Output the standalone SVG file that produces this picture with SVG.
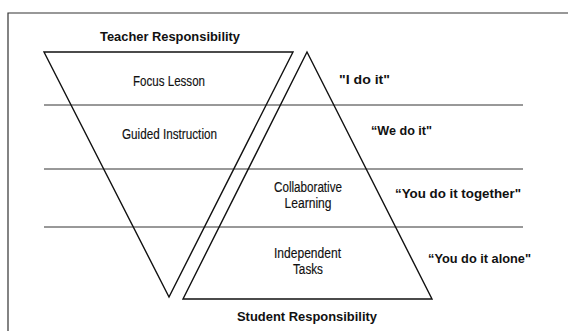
<svg xmlns="http://www.w3.org/2000/svg" width="569" height="331" viewBox="0 0 569 331">
<style>
.frame{fill:none;stroke:#333;stroke-width:1.2}
.band{fill:none;stroke:#333;stroke-width:1}
.tri{fill:none;stroke:#111;stroke-width:1.4;stroke-linejoin:miter}
text{font-family:"Liberation Sans",Arial,sans-serif;fill:#111;text-anchor:middle}
.lbl{font-size:14px;stroke:#111;stroke-width:0.15}
.hd{font-size:12.5px;font-weight:bold}
.q{font-size:13px;font-weight:bold}
</style>
<rect width="569" height="331" fill="#fff"/>
<g id="frame">
<polyline class="frame" points="8,331 8,13 568,13"/>
</g>
<g id="bands">
<line class="band" x1="44" y1="105" x2="523" y2="105"/>
<line class="band" x1="44" y1="169" x2="523" y2="169"/>
<line class="band" x1="44" y1="227" x2="523" y2="227"/>
</g>
<g id="teacher-triangle">
<polygon class="tri" points="44,52 293,52 169,297"/>
</g>
<g id="student-triangle">
<polygon class="tri" points="307,52 432,299 183,299"/>
</g>
<g id="teacher-label"><text class="hd" x="170" y="41" textLength="140" lengthAdjust="spacingAndGlyphs">Teacher Responsibility</text></g>
<g id="student-label"><text class="hd" x="307" y="321" textLength="140" lengthAdjust="spacingAndGlyphs">Student Responsibility</text></g>
<g id="focus-lesson"><text class="lbl" x="169" y="86" textLength="72" lengthAdjust="spacingAndGlyphs">Focus Lesson</text></g>
<g id="guided-instruction"><text class="lbl" x="169.5" y="139" textLength="95" lengthAdjust="spacingAndGlyphs">Guided Instruction</text></g>
<g id="collaborative-learning">
<text class="lbl" x="308" y="192" textLength="68" lengthAdjust="spacingAndGlyphs">Collaborative</text>
<text class="lbl" x="308" y="208" textLength="47" lengthAdjust="spacingAndGlyphs">Learning</text>
</g>
<g id="independent-tasks">
<text class="lbl" x="307.5" y="258" textLength="67" lengthAdjust="spacingAndGlyphs">Independent</text>
<text class="lbl" x="308" y="274" textLength="30" lengthAdjust="spacingAndGlyphs">Tasks</text>
</g>
<g id="i-do-it"><text class="q" x="364.5" y="84" textLength="51" lengthAdjust="spacingAndGlyphs">"I do it"</text></g>
<g id="we-do-it"><text class="q" x="401.5" y="135" textLength="61" lengthAdjust="spacingAndGlyphs">“We do it"</text></g>
<g id="you-do-it-together"><text class="q" x="458" y="198" textLength="126" lengthAdjust="spacingAndGlyphs">“You do it together"</text></g>
<g id="you-do-it-alone"><text class="q" x="479.5" y="263" textLength="103" lengthAdjust="spacingAndGlyphs">“You do it alone"</text></g>
</svg>
